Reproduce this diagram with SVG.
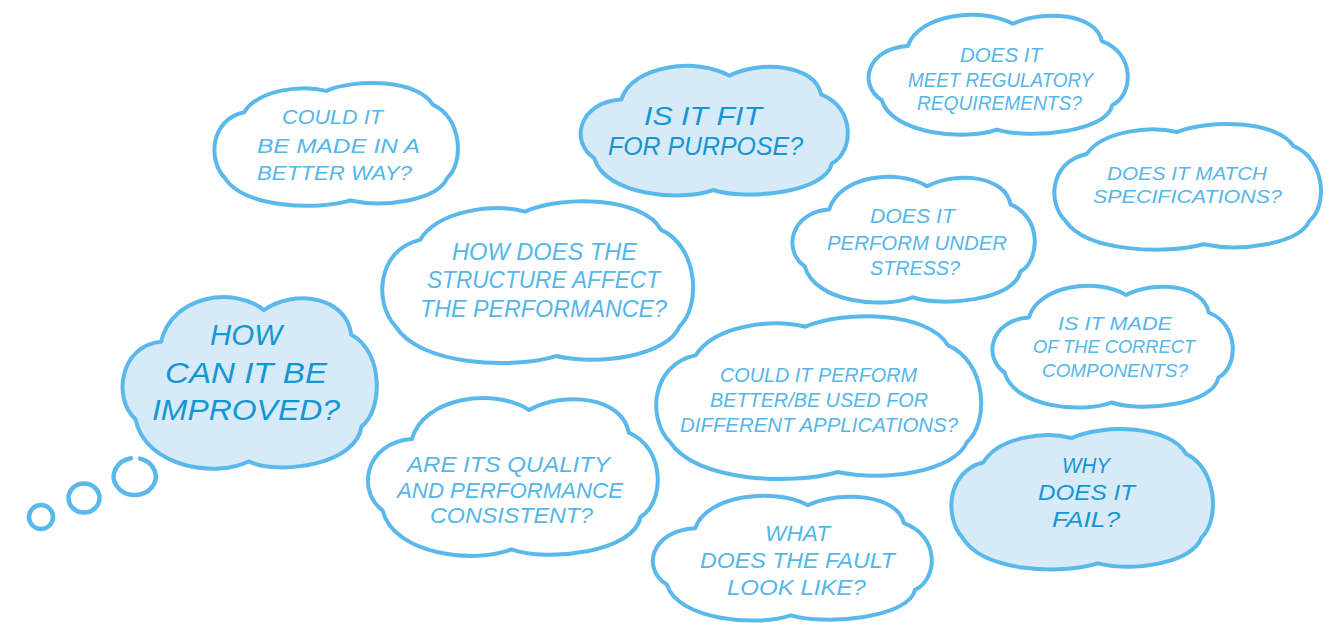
<svg xmlns="http://www.w3.org/2000/svg" xmlns:xlink="http://www.w3.org/1999/xlink" width="1339" height="626" viewBox="0 0 1339 626">
<style>
.c{fill:#ffffff;stroke:#5ab9ea;stroke-width:4;stroke-linejoin:round}
.f{fill:#d6eaf8}
.t{font-family:"Liberation Sans","Open Sans",sans-serif;font-style:italic;text-anchor:middle;fill:#55b6e8}
.d{fill:#1596d3}
.b{fill:none;stroke:#5ab9ea;stroke-width:4.5;stroke-linecap:round}
</style>
<defs>
<path id="cloudA" vector-effect="non-scaling-stroke" d="M 4 76 C -3 62, -2 30, 12 24 C 18 6, 36 2, 46 7 C 58 -3, 84 -2, 90 18 C 102 28, 103 64, 96 76 C 92 94, 70 100, 56 94 C 42 102, 12 100, 4 76 Z"/>
<path id="cloudB" vector-effect="non-scaling-stroke" d="M 6 70 C -3 58, 0 28, 16 26 C 20 0, 44 -6, 56 8 C 68 -4, 88 0, 90 22 C 103 32, 102 66, 94 74 C 92 96, 62 102, 50 94 C 38 103, 10 98, 6 70 Z"/>
</defs>

<g id="bubbles">
<ellipse class="b" cx="41" cy="517" rx="12" ry="12"/>
<ellipse class="b" cx="84" cy="498" rx="15.5" ry="14.5"/>
<path class="b" d="M 131 458.3 A 21 18.5 0 1 0 140 458.6"/>
</g>

<g id="n1">
<use xlink:href="#cloudA" class="c" transform="translate(215,82) scale(2.42,1.26)"/>
<text class="t" font-size="20"><tspan x="332.5" y="124" textLength="101" lengthAdjust="spacingAndGlyphs">COULD IT</tspan><tspan x="338.5" y="153" textLength="163" lengthAdjust="spacingAndGlyphs">BE MADE IN A</tspan><tspan x="334.5" y="180" textLength="155" lengthAdjust="spacingAndGlyphs">BETTER WAY?</tspan></text>
</g>

<g id="n2">
<use xlink:href="#cloudB" class="c f" transform="translate(578,65) scale(2.70,1.33)"/>
<text class="t d" font-size="25"><tspan x="703" y="125" textLength="118" lengthAdjust="spacingAndGlyphs">IS IT FIT</tspan><tspan x="705.5" y="155" textLength="195" lengthAdjust="spacingAndGlyphs">FOR PURPOSE?</tspan></text>
</g>

<g id="n3">
<use xlink:href="#cloudB" class="c" transform="translate(866,14) scale(2.62,1.23)"/>
<text class="t" font-size="20"><tspan x="1001" y="62" textLength="82" lengthAdjust="spacingAndGlyphs">DOES IT</tspan><tspan x="1000.5" y="87" textLength="185" lengthAdjust="spacingAndGlyphs">MEET REGULATORY</tspan><tspan x="999.5" y="110" textLength="165" lengthAdjust="spacingAndGlyphs">REQUIREMENTS?</tspan></text>
</g>

<g id="n4">
<use xlink:href="#cloudA" class="c" transform="translate(1055,123) scale(2.65,1.29)"/>
<text class="t" font-size="19"><tspan x="1187" y="180" textLength="160" lengthAdjust="spacingAndGlyphs">DOES IT MATCH</tspan><tspan x="1187.5" y="203" textLength="189" lengthAdjust="spacingAndGlyphs">SPECIFICATIONS?</tspan></text>
</g>

<g id="n5">
<use xlink:href="#cloudB" class="c" transform="translate(790,176) scale(2.45,1.29)"/>
<text class="t" font-size="20"><tspan x="912.5" y="223" textLength="85" lengthAdjust="spacingAndGlyphs">DOES IT</tspan><tspan x="917" y="250" textLength="180" lengthAdjust="spacingAndGlyphs">PERFORM UNDER</tspan><tspan x="915" y="275" textLength="90" lengthAdjust="spacingAndGlyphs">STRESS?</tspan></text>
</g>

<g id="n6">
<use xlink:href="#cloudA" class="c" transform="translate(383,200) scale(3.09,1.66)"/>
<text class="t" font-size="24"><tspan x="544.5" y="260" textLength="185" lengthAdjust="spacingAndGlyphs">HOW DOES THE</tspan><tspan x="543.5" y="288" textLength="233" lengthAdjust="spacingAndGlyphs">STRUCTURE AFFECT</tspan><tspan x="543.5" y="317" textLength="247" lengthAdjust="spacingAndGlyphs">THE PERFORMANCE?</tspan></text>
</g>

<g id="n7">
<use xlink:href="#cloudB" class="c f" transform="translate(120,296) scale(2.57,1.76)"/>
<text class="t d" font-size="30"><tspan x="246" y="345" textLength="72" lengthAdjust="spacingAndGlyphs">HOW</tspan><tspan x="246" y="383" textLength="162" lengthAdjust="spacingAndGlyphs">CAN IT BE</tspan><tspan x="246" y="420" textLength="188" lengthAdjust="spacingAndGlyphs">IMPROVED?</tspan></text>
</g>

<g id="n8">
<use xlink:href="#cloudB" class="c" transform="translate(990,285) scale(2.43,1.25)"/>
<text class="t" font-size="18.5"><tspan x="1115" y="330" textLength="114" lengthAdjust="spacingAndGlyphs">IS IT MADE</tspan><tspan x="1114" y="353" textLength="162" lengthAdjust="spacingAndGlyphs">OF THE CORRECT</tspan><tspan x="1115" y="377" textLength="146" lengthAdjust="spacingAndGlyphs">COMPONENTS?</tspan></text>
</g>

<g id="n9">
<use xlink:href="#cloudA" class="c" transform="translate(657,315) scale(3.23,1.67)"/>
<text class="t" font-size="20"><tspan x="818.5" y="382" textLength="197" lengthAdjust="spacingAndGlyphs">COULD IT PERFORM</tspan><tspan x="819" y="407" textLength="218" lengthAdjust="spacingAndGlyphs">BETTER/BE USED FOR</tspan><tspan x="819" y="432" textLength="278" lengthAdjust="spacingAndGlyphs">DIFFERENT APPLICATIONS?</tspan></text>
</g>

<g id="n10">
<use xlink:href="#cloudB" class="c" transform="translate(365,397) scale(2.93,1.62)"/>
<text class="t" font-size="22"><tspan x="508.5" y="472" textLength="203" lengthAdjust="spacingAndGlyphs">ARE ITS QUALITY</tspan><tspan x="510" y="498" textLength="226" lengthAdjust="spacingAndGlyphs">AND PERFORMANCE</tspan><tspan x="511.5" y="523" textLength="163" lengthAdjust="spacingAndGlyphs">CONSISTENT?</tspan></text>
</g>

<g id="n11">
<use xlink:href="#cloudA" class="c f" transform="translate(952,428) scale(2.60,1.44)"/>
<text class="t d" font-size="22"><tspan x="1086" y="473" textLength="48" lengthAdjust="spacingAndGlyphs">WHY</tspan><tspan x="1086.5" y="500" textLength="97" lengthAdjust="spacingAndGlyphs">DOES IT</tspan><tspan x="1086" y="527" textLength="68" lengthAdjust="spacingAndGlyphs">FAIL?</tspan></text>
</g>

<g id="n12">
<use xlink:href="#cloudB" class="c" transform="translate(650,495) scale(2.82,1.28)"/>
<text class="t" font-size="22"><tspan x="797.5" y="541" textLength="65" lengthAdjust="spacingAndGlyphs">WHAT</tspan><tspan x="797.5" y="568" textLength="195" lengthAdjust="spacingAndGlyphs">DOES THE FAULT</tspan><tspan x="796.5" y="595" textLength="139" lengthAdjust="spacingAndGlyphs">LOOK LIKE?</tspan></text>
</g>
</svg>
